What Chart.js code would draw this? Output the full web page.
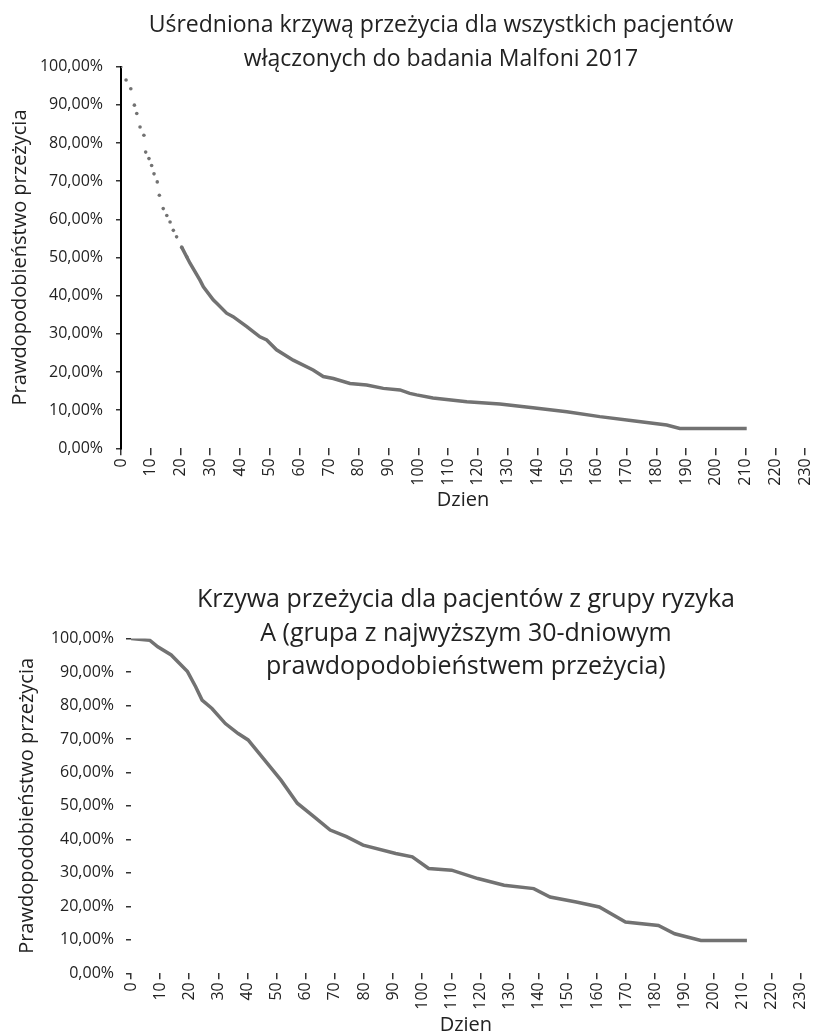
<!DOCTYPE html>
<html>
<head>
<meta charset="utf-8">
<script src="https://cdn.jsdelivr.net/npm/chart.js@4.4.1/dist/chart.umd.min.js"></script>
<style>
  html, body { margin: 0; padding: 0; background: #fff; overflow: hidden; width: 823px; height: 1035px; }
  #w1 { position: absolute; left: 0; top: 0; width: 882px; height: 520px; }
  #w2 { position: absolute; left: 0; top: 560px; width: 823px; height: 475px; }
</style>
</head>
<body>
<div id="w1"><canvas id="c1" width="882" height="520"></canvas></div>
<div id="w2"><canvas id="c2" width="823" height="475"></canvas></div>
<script>
// ---- Chart 1: averaged survival curve, all patients ----
const title1 = ['Uśredniona krzywą przeżycia dla wszystkich pacjentów', 'włączonych do badania Malfoni 2017'];
// early part, drawn as separate dots
const allDotDays   = [0, 1.7, 3.3, 4.5, 5.3, 6.4, 7.7, 8.3, 9.4, 10.3, 11.1, 12.2, 12.9, 14.2, 15.4, 16.5, 17.6, 18.7, 20.4, 22.1];
const allDotValues = [100, 96.5, 94.2, 89.9, 87.7, 84.2, 82.0, 77.6, 75.9, 74.1, 71.9, 69.8, 66.3, 62.8, 61.0, 59.3, 57.1, 55.4, 52.7, 50.2];
// later, dense part (appears as a line)
const allLineDays   = [20.4, 23.2, 26.6, 27.7, 31, 32.2, 35.5, 37.7, 42.3, 46.7, 49, 52.3, 57.9, 64.6, 68, 71.4, 77, 82.6, 88.2, 93.8, 97.1, 99.4, 104.9, 116.3, 127.4, 138.5, 149.9, 161, 172.1, 183.5, 187.9, 210.4];
const allLineValues = [52.7, 48.5, 44.0, 42.3, 38.9, 38.0, 35.4, 34.5, 31.9, 29.2, 28.4, 25.8, 23.1, 20.5, 18.8, 18.3, 17.0, 16.6, 15.7, 15.3, 14.4, 14.0, 13.2, 12.2, 11.6, 10.6, 9.6, 8.3, 7.2, 6.1, 5.2, 5.2];

// ---- Chart 2: risk group A ----
const title2 = ['Krzywa przeżycia dla pacjentów z grupy ryzyka', 'A (grupa z najwyższym 30-dniowym', 'prawdopodobieństwem przeżycia)'];
const groupADays   = [0, 6.4, 9.2, 13.8, 16.6, 19.4, 22.2, 24.4, 27.8, 32.4, 36.8, 40.2, 45.9, 51.5, 57.1, 62.8, 68.4, 74.0, 79.7, 90.9, 96.6, 102.2, 110.1, 119.1, 128.1, 138.3, 143.9, 152.9, 160.8, 169.8, 181.1, 186.7, 195.7, 211.5];
const groupAValues = [100, 99.5, 97.5, 95.1, 92.6, 90.1, 85.6, 81.6, 79.1, 74.6, 71.6, 69.7, 63.7, 57.7, 50.8, 46.8, 42.8, 40.8, 38.3, 35.8, 34.8, 31.3, 30.8, 28.3, 26.3, 25.3, 22.8, 21.3, 19.8, 15.3, 14.3, 11.8, 9.8, 9.8];

const yAxisTitle = 'Prawdopodobieństwo przeżycia';
const xAxisTitle = 'Dzien';
const xMin = 0, xMax = 230, xStep = 10;
const yMin = 0, yMax = 100, yStep = 10;

const FONT = "'Open Sans', 'DejaVu Sans', sans-serif";
const TXT = '#222';
const LINE = '#727272';

function pts(xs, ys) { return xs.map((x, i) => ({ x: x, y: ys[i] })); }
function pct(v) { return v.toFixed(2).replace('.', ',') + '%'; }

function makeChart(id, cfg) {
  return new Chart(document.getElementById(id), {
    type: 'line',
    data: { datasets: cfg.datasets },
    options: {
      responsive: false,
      animation: false,
      events: [],
      layout: { padding: 0 },
      plugins: {
        legend: { display: false },
        tooltip: { enabled: false },
        title: {
          display: true,
          text: cfg.title,
          fullSize: cfg.titleFull,
          color: TXT,
          font: { family: FONT, size: cfg.titleSize, weight: 'normal', lineHeight: cfg.titleLH },
          padding: cfg.titlePad
        }
      },
      scales: {
        x: {
          type: 'linear', min: xMin, max: xMax,
          ticks: { stepSize: xStep, autoSkip: false, minRotation: 90, maxRotation: 90, padding: 3, color: TXT, font: { family: FONT, size: 16 } },
          grid: { drawOnChartArea: false, drawTicks: true, tickLength: cfg.xTickLen, color: '#333', lineWidth: 1.5 },
          border: { display: false },
          title: { display: true, text: xAxisTitle, color: TXT, font: { family: FONT, size: 20, lineHeight: 1 }, padding: { top: 0, bottom: cfg.xTitlePad } },
          afterFit: s => { s.height = cfg.xHeight; }
        },
        y: {
          type: 'linear', min: yMin, max: yMax, position: 'left',
          ticks: { stepSize: yStep, padding: cfg.yTickPad, color: TXT, font: { family: FONT, size: 16 }, callback: v => pct(v) },
          grid: { drawOnChartArea: false, drawTicks: true, tickLength: 5, color: '#333', lineWidth: 1.5 },
          border: cfg.yBorder,
          title: { display: true, text: yAxisTitle, color: TXT, font: { family: FONT, size: 20, lineHeight: 1.2 }, padding: { top: cfg.yTitlePad, bottom: 0 } },
          afterFit: s => { s.width = cfg.yWidth; }
        },
        yr: {
          type: 'linear', position: 'right', display: true,
          ticks: { display: false }, grid: { display: false }, border: { display: false },
          afterFit: s => { s.width = cfg.rightWidth; }
        }
      }
    }
  });
}

makeChart('c1', {
  title: title1, titleFull: true, titleSize: 23, titleLH: 1.52,
  titlePad: { top: 7.5, bottom: -10.8 },
  xTickLen: 7, xHeight: 71.7, xTitlePad: 10,
  yTickPad: 13, yWidth: 121, rightWidth: 77, yTitlePad: 8,
  yBorder: { display: true, color: '#000', width: 2 },
  datasets: [
    { data: pts(allDotDays, allDotValues), showLine: false, pointRadius: 1.8, pointBackgroundColor: LINE, pointBorderWidth: 0 },
    { data: pts(allLineDays, allLineValues), borderColor: LINE, borderWidth: 3.5, pointRadius: 0, tension: 0 }
  ]
});

makeChart('c2', {
  title: title2, titleFull: false, titleSize: 25, titleLH: 1.34,
  titlePad: { top: 23.25, bottom: -45.25 },
  xTickLen: 6, xHeight: 61.7, xTitlePad: 0,
  yTickPad: 12, yWidth: 131, rightWidth: 12, yTitlePad: 15,
  yBorder: { display: false },
  datasets: [
    { data: pts(groupADays, groupAValues), borderColor: LINE, borderWidth: 3.5, pointRadius: 0, tension: 0 }
  ]
});
</script>
</body>
</html>
